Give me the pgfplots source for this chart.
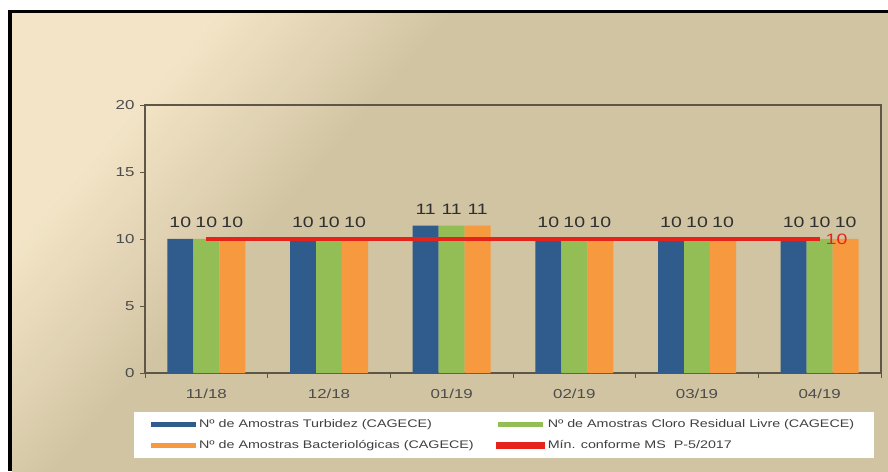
\documentclass[border=0pt]{standalone}
\usepackage{pgfplots}
\pgfplotsset{compat=1.18}
\usepackage{fontspec}
\setmainfont{Liberation Sans}
\newfontfamily\chartfont{Liberation Sans}[FakeStretch=1.3]
\definecolor{cream}{HTML}{F3E4C7}
\definecolor{tan}{HTML}{D1C4A2}
\definecolor{barblue}{HTML}{2F5B8D}
\definecolor{bargreen}{HTML}{93BD55}
\definecolor{barorange}{HTML}{F7993F}
\definecolor{linered}{HTML}{E5231B}
\definecolor{axisgray}{HTML}{5E5747}
\definecolor{ticktext}{HTML}{4D4D4D}
\definecolor{labeltext}{HTML}{303030}
\begin{document}
\begin{tikzpicture}
\useasboundingbox (0,0) rectangle (888pt,471pt);
\fill[white] (0,0) rectangle (888pt,471pt);
\begin{scope}
\clip (12pt,0) rectangle (888pt,458pt);
\begin{scope}[shift={(180pt,275pt)}, rotate=-41]
 \fill[cream] (-2000pt,-2000pt) rectangle (-90pt,2000pt);
 \foreach \i in {0,...,35} {
   \pgfmathsetmacro{\xa}{-90+5*\i}
   \pgfmathsetmacro{\xb}{-90+5*\i+5.5}
   \pgfmathsetmacro{\pc}{100-100*(\i+0.5)/36}
   \fill[cream!\pc!tan] (\xa pt,-2000pt) rectangle (\xb pt,2000pt);
 }
 \fill[tan] (90pt,-2000pt) rectangle (2000pt,2000pt);
\end{scope}
\end{scope}
\fill[black] (8pt,0) rectangle (12pt,461pt);
\fill[black] (8pt,458pt) rectangle (888pt,461pt);
\begin{axis}[
  at={(145pt,98pt)}, anchor=south west,
  scale only axis, width=736pt, height=268pt,
  xmin=0, xmax=6, ymin=0, ymax=20,
  ytick={0,5,10,15,20},
  xtick={0.5,1.5,2.5,3.5,4.5,5.5},
  xticklabels={11/18,12/18,01/19,02/19,03/19,04/19},
  minor xtick={0,1,2,3,4,5,6},
  x tick style={draw=none},
  minor x tick style={draw=axisgray, line width=0.8pt},
  y tick style={draw=axisgray, line width=0.8pt},
  tick align=outside, major tick length=5pt, minor tick length=5pt,
  xtick pos=bottom, ytick pos=left,
  axis line style={draw=axisgray, line width=1.6pt},
  /pgf/number format/assume math mode=true,
  tick label style={font=\chartfont\fontsize{13}{15}\selectfont, text=ticktext},
  yticklabel style={xshift=-2pt},
  xticklabel style={yshift=-8pt},
  legend columns=2,
  legend cell align=left,
  legend style={
    at={(-0.015,-0.1455)}, anchor=north west,
    fill=white, draw=none,
    inner xsep=17pt, inner ysep=2pt,
    font=\chartfont\fontsize{11}{13}\selectfont,
    text=black!75,
    /tikz/every even column/.append style={column sep=19pt},
    nodes={inner sep=3pt, minimum height=21pt},
  },
  every node near coord/.append style={font=\chartfont\fontsize{15}{17}\selectfont, text=labeltext, inner sep=0pt, yshift=11pt},
]
\addplot[ybar, bar width=26pt, bar shift=-26pt, fill=barblue, draw=none, nodes near coords,
  every node near coord/.append style={xshift=-26pt},
  legend image code/.code={\fill[barblue] (0pt,-2.5pt) rectangle (45pt,2.5pt);}]
  coordinates {(0.5,10) (1.5,10) (2.5,11) (3.5,10) (4.5,10) (5.5,10)};
\addlegendentry{Nº de Amostras Turbidez (CAGECE)}
\addplot[ybar, bar width=26pt, bar shift=0pt, fill=bargreen, draw=none, nodes near coords,
  legend image code/.code={\fill[bargreen] (0pt,-2.5pt) rectangle (45pt,2.5pt);}]
  coordinates {(0.5,10) (1.5,10) (2.5,11) (3.5,10) (4.5,10) (5.5,10)};
\addlegendentry{Nº de Amostras Cloro Residual Livre (CAGECE)}
\addplot[ybar, bar width=26pt, bar shift=26pt, fill=barorange, draw=none, nodes near coords,
  every node near coord/.append style={xshift=26pt},
  legend image code/.code={\fill[barorange] (0pt,-2.5pt) rectangle (45pt,2.5pt);}]
  coordinates {(0.5,10) (1.5,10) (2.5,11) (3.5,10) (4.5,10) (5.5,10)};
\addlegendentry{Nº de Amostras Bacteriológicas (CAGECE)}
\addplot[sharp plot, mark=none, color=linered, line width=4pt,
  legend image code/.code={\fill[linered] (0pt,-1.8pt) rectangle (45pt,1.8pt);}]
  coordinates {(0.5,10) (1.5,10) (2.5,10) (3.5,10) (4.5,10) (5.5,10)}
  node[pos=1, anchor=west, xshift=4pt, inner sep=0pt, text=linered, font=\chartfont\fontsize{15}{17}\selectfont] {10};
\addlegendentry{Mín. conforme MS\ \ P-5/2017}
\end{axis}
\end{tikzpicture}
\end{document}
